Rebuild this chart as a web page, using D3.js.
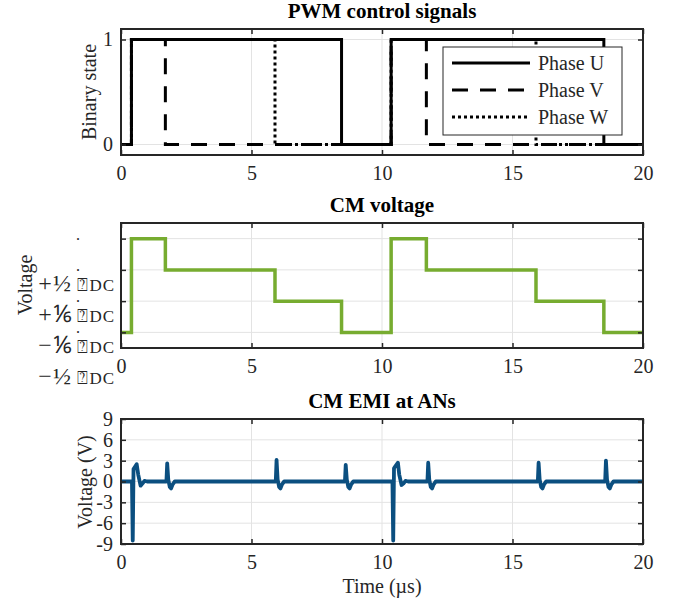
<!DOCTYPE html>
<html>
<head>
<meta charset="utf-8">
<script src="https://cdn.jsdelivr.net/npm/d3@7"></script>
<style>
  body { margin: 0; background: #fff; }
  svg { font-family: "Liberation Serif", "Times New Roman", serif; }
</style>
</head>
<body>
<svg id="chart" width="678" height="603"></svg>
<script>
// switching instants (µs) and the state of each phase after them
const pwmTime = [0, 0.4, 1.7, 5.9, 8.45, 10.35, 11.7, 15.9, 18.5, 20];
const phaseU = [0, 1, 1, 1, 0, 1, 1, 1, 0, 0];
const phaseV = [0, 1, 0, 0, 0, 1, 0, 0, 0, 0];
const phaseW = [0, 1, 1, 0, 0, 1, 1, 0, 0, 0];
const cmLevel = [-1/2, 1/2, 1/6, -1/6, -1/2, 1/2, 1/6, -1/6, -1/2, -1/2];

const cmTicks = [-1/2, -1/6, 1/6, 1/2];
const cmTickSign = ["−", "−", "+", "+"];
const cmTickFrac = ["½", "⅙", "⅙", "½"];

const emiTime = [
  0, 0.42, 0.45, 0.48, 0.55, 0.60, 0.66, 0.75, 0.82, 0.90, 1.00,
  1.74, 1.77, 1.81, 1.87, 1.92, 1.98, 2.06,
  5.93, 5.96, 6.00, 6.06, 6.11, 6.17, 6.25,
  8.58, 8.61, 8.65, 8.71, 8.76, 8.82, 8.90,
  10.40, 10.43, 10.46, 10.53, 10.61, 10.66, 10.75, 10.82, 10.90, 11.00,
  11.74, 11.77, 11.81, 11.87, 11.92, 11.98, 12.06,
  15.97, 16.00, 16.04, 16.10, 16.15, 16.21, 16.29,
  18.55, 18.58, 18.62, 18.68, 18.73, 18.79, 18.87,
  20];
const emiVolt = [
  0, 0, -8.5, 1.8, 2.2, 2.5, 1.0, -0.6, -0.3, 0.1, 0,
  0, 2.6, 0.3, -0.8, -1.0, -0.4, 0,
  0, 3.1, 0.3, -0.8, -1.0, -0.4, 0,
  0, 2.4, 0.3, -0.8, -1.0, -0.4, 0,
  0, -8.5, 1.9, 2.3, 2.7, 1.0, -0.5, -0.3, 0.1, 0,
  0, 2.7, 0.3, -0.8, -1.0, -0.4, 0,
  0, 2.7, 0.3, -0.8, -1.0, -0.4, 0,
  0, 3.0, 0.3, -0.8, -1.0, -0.4, 0,
  0];

const xTicks = [0, 5, 10, 15, 20];
const emiTicks = [-9, -6, -3, 0, 3, 6, 9];

const svg = d3.select("#chart");
const ink = "#262626";
const left = 121, right = 643;

const x = d3.scaleLinear().domain([0, 20]).range([left, right]);

function panel(top, bottom, yDomain, yTicks, title, id) {
  const y = d3.scaleLinear().domain(yDomain).range([bottom, top]);
  const g = svg.append("g");

  svg.append("clipPath").attr("id", id)
    .append("rect").attr("x", left).attr("y", top)
    .attr("width", right - left).attr("height", bottom - top);

  // grid
  g.selectAll(".gx").data(xTicks).join("line")
    .attr("x1", d => x(d)).attr("x2", d => x(d))
    .attr("y1", top).attr("y2", bottom)
    .attr("stroke", "#e3e3e3").attr("stroke-width", 1);
  g.selectAll(".gy").data(yTicks).join("line")
    .attr("x1", left).attr("x2", right)
    .attr("y1", d => y(d)).attr("y2", d => y(d))
    .attr("stroke", "#e3e3e3").attr("stroke-width", 1);

  // axes, ticks pointing inward
  const styleAxis = a => {
    a.select(".domain").remove();
    a.selectAll("line").attr("stroke", ink).attr("stroke-width", 1.5);
    a.selectAll("text").attr("fill", ink).style("font-size", "20px")
      .style("font-family", "Liberation Serif, serif");
  };
  svg.append("g").attr("transform", `translate(0,${bottom})`)
    .call(d3.axisBottom(x).tickValues(xTicks).tickSize(-5).tickPadding(11))
    .call(styleAxis);
  svg.append("g").attr("transform", `translate(0,${top})`)
    .call(d3.axisTop(x).tickValues(xTicks).tickSize(-5).tickFormat(""))
    .call(styleAxis);
  const yl = svg.append("g").attr("transform", `translate(${left},0)`)
    .call(d3.axisLeft(y).tickValues(yTicks).tickSize(-5).tickPadding(8).tickFormat(d => String(d)))
    .call(styleAxis);
  svg.append("g").attr("transform", `translate(${right},0)`)
    .call(d3.axisRight(y).tickValues(yTicks).tickSize(-5).tickFormat(""))
    .call(styleAxis);

  svg.append("text")
    .attr("x", (left + right) / 2).attr("y", top - 11)
    .attr("text-anchor", "middle")
    .attr("font-weight", "bold").attr("font-size", 21).attr("fill", "#000")
    .text(title);

  return { y, g, top, bottom, yl };
}

function drawBox(p) {
  svg.append("rect")
    .attr("x", left).attr("y", p.top)
    .attr("width", right - left).attr("height", p.bottom - p.top)
    .attr("fill", "none").attr("stroke", ink).attr("stroke-width", 2);
}

function yLabel(txt, cx, cy) {
  svg.append("text")
    .attr("transform", `translate(${cx},${cy}) rotate(-90)`)
    .attr("text-anchor", "middle").attr("dy", "0.35em")
    .attr("font-size", 20).attr("fill", ink)
    .text(txt);
}

// ---- panel 1: PWM control signals
const p1 = panel(29, 155, [-0.1, 1.1], [0, 1], "PWM control signals", "c1");
const stepLine = y => d3.line().x((d, i) => x(pwmTime[i])).y(d => y(d)).curve(d3.curveStepAfter);
const phases = [
  { name: "Phase U", vals: phaseU, dash: null },
  { name: "Phase V", vals: phaseV, dash: "16,12" },
  { name: "Phase W", vals: phaseW, dash: "3,3" }
];
phases.forEach(ph => {
  p1.g.append("path")
    .attr("clip-path", "url(#c1)")
    .attr("d", stepLine(p1.y)(ph.vals))
    .attr("fill", "none").attr("stroke", "#000").attr("stroke-width", 3)
    .attr("stroke-dasharray", ph.dash);
});
drawBox(p1);
yLabel("Binary state", 89, 92);

// legend
const lg = svg.append("g");
lg.append("rect").attr("x", 443).attr("y", 47).attr("width", 179).attr("height", 88)
  .attr("fill", "#fff").attr("stroke", ink).attr("stroke-width", 1);
phases.forEach((ph, i) => {
  const ly = 63 + i * 27;
  lg.append("line").attr("x1", 452).attr("x2", 530).attr("y1", ly).attr("y2", ly)
    .attr("stroke", "#000").attr("stroke-width", 3).attr("stroke-dasharray", ph.dash);
  lg.append("text").attr("x", 538).attr("y", ly + 7)
    .attr("font-size", 20).attr("fill", ink).text(ph.name);
});

// ---- panel 2: CM voltage
const p2 = panel(223, 348, [-2/3, 2/3], cmTicks, "CM voltage", "c2");
p2.yl.selectAll("text").remove();
cmTicks.forEach((t, i) => {
  const ty = p2.y(t);
  svg.append("text").attr("x", 78).attr("y", ty + 1)
    .attr("text-anchor", "middle").attr("font-size", 16).attr("fill", ink).text(".");
  const base = ty + 52;
  svg.append("text").attr("x", 45).attr("y", base)
    .attr("text-anchor", "middle").attr("font-size", 24).attr("fill", ink).text(cmTickSign[i]);
  svg.append("text").attr("x", 62).attr("y", base)
    .attr("text-anchor", "middle").attr("font-size", 24).attr("fill", ink).text(cmTickFrac[i]);
  svg.append("text").attr("x", 82.5).attr("y", base)
    .attr("text-anchor", "middle").attr("font-size", 18).attr("font-family", "DejaVu Sans")
    .attr("fill", ink).text("⍰");
  svg.append("text").attr("x", 115).attr("y", base)
    .attr("text-anchor", "end").attr("font-size", 17).attr("letter-spacing", 1)
    .attr("fill", ink).text("DC");
});
p2.g.append("path")
  .attr("clip-path", "url(#c2)")
  .attr("d", stepLine(p2.y)(cmLevel))
  .attr("fill", "none").attr("stroke", "#77ac30").attr("stroke-width", 3.5);
drawBox(p2);
yLabel("Voltage", 25, 285);

// ---- panel 3: CM EMI at ANs
const p3 = panel(419, 544, [-9, 9], emiTicks, "CM EMI at ANs", "c3");
p3.g.append("path")
  .attr("clip-path", "url(#c3)")
  .attr("d", d3.line().x((d, i) => x(emiTime[i])).y(d => p3.y(d))(emiVolt))
  .attr("fill", "none").attr("stroke", "#0b4f80").attr("stroke-width", 3.8)
  .attr("stroke-linejoin", "round");
drawBox(p3);
yLabel("Voltage (V)", 85, 482);

svg.append("text")
  .attr("x", (left + right) / 2).attr("y", 593)
  .attr("text-anchor", "middle").attr("font-size", 20).attr("fill", ink)
  .text("Time (µs)");
</script>
</body>
</html>
